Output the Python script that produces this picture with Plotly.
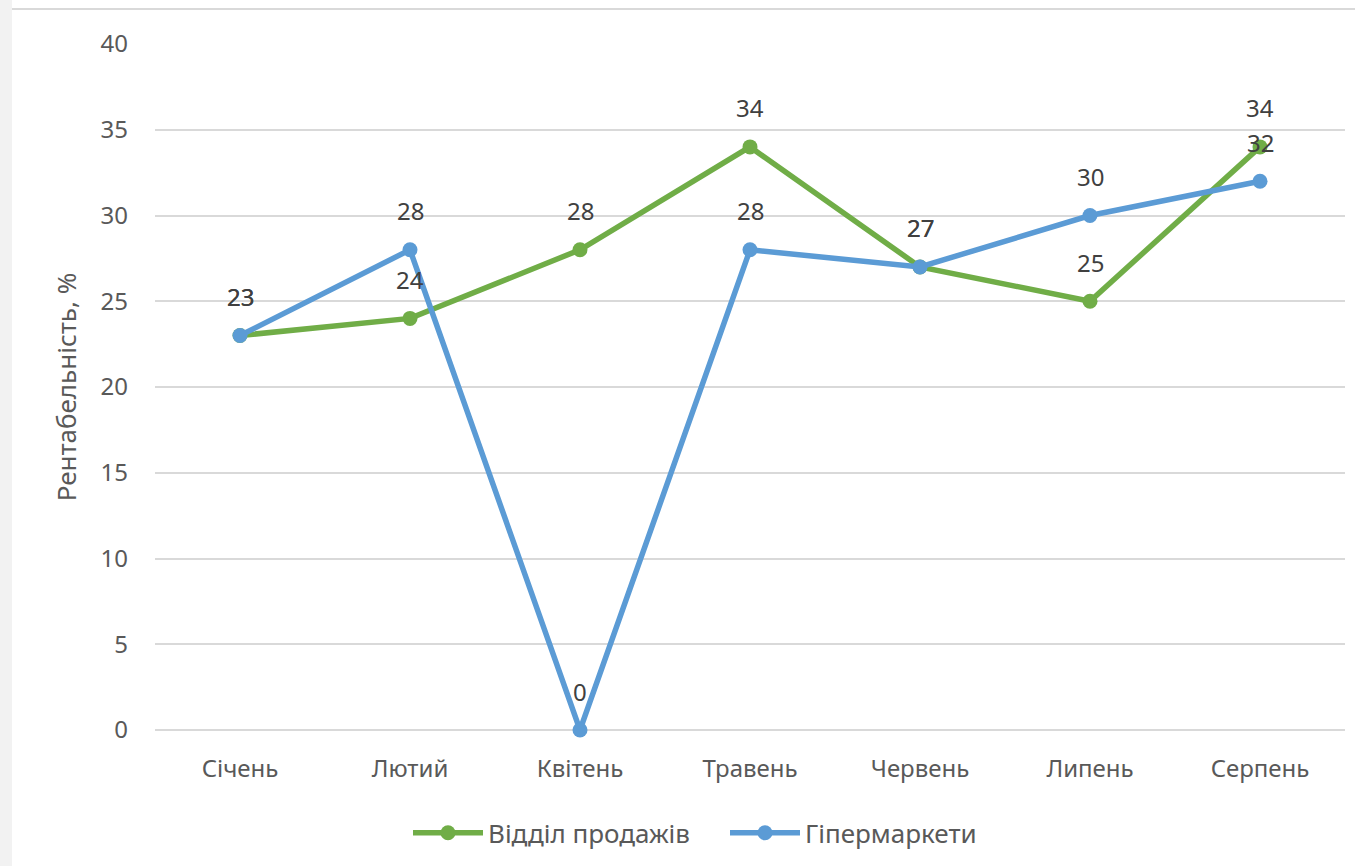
import plotly.graph_objects as go

months = ["Січень", "Лютий", "Квітень", "Травень", "Червень", "Липень", "Серпень"]
sales_dept = [23, 24, 28, 34, 27, 25, 34]
hypermarkets = [23, 28, 0, 28, 27, 30, 32]
series_names = ["Відділ продажів", "Гіпермаркети"]
y_ticks = [0, 5, 10, 15, 20, 25, 30, 35, 40]

GREEN = "#70AD47"
BLUE = "#5B9BD5"
TXT = "#595959"
FONT = "Noto Sans"
FS = 24

fig = go.Figure()
for name, vals, col, lg in [(series_names[0], sales_dept, GREEN, "legend"),
                            (series_names[1], hypermarkets, BLUE, "legend2")]:
    fig.add_trace(go.Scatter(
        x=months, y=vals, name=name, mode="lines+markers",
        line=dict(color=col, width=5.5),
        marker=dict(color=col, size=15),
        cliponaxis=False, legend=lg,
    ))

annotations = []
for vals in [sales_dept, hypermarkets]:
    for m, v in zip(months, vals):
        annotations.append(dict(
            x=m, y=v, text=str(v), showarrow=False, yshift=39,
            font=dict(family=FONT, size=FS, color="#404040"),
        ))

W, H = 1355, 866
L, R, T, B = 155, 10, 44, 136
pw = W - L - R
ph = H - T - B

shapes = [
    dict(type="rect", xref="paper", yref="paper",
         x0=-L / pw, x1=(12 - L) / pw, y0=-B / ph, y1=1 + T / ph,
         fillcolor="#f2f2f2", line=dict(width=0), layer="below"),
    dict(type="line", xref="paper", yref="paper",
         x0=(12 - L) / pw, x1=1 + R / pw, y0=1 + (T - 9) / ph, y1=1 + (T - 9) / ph,
         line=dict(color="#d9d9d9", width=2)),
]

legfont = dict(family=FONT, size=26, color=TXT)
fig.update_layout(
    width=W, height=H,
    margin=dict(l=L, r=R, t=T, b=B),
    paper_bgcolor="white", plot_bgcolor="white",
    font=dict(family=FONT, size=FS, color=TXT),
    showlegend=True,
    legend=dict(orientation="h", x=(408 - L) / pw, xanchor="left", y=-0.15, yanchor="middle",
                font=legfont, itemwidth=70),
    legend2=dict(orientation="h", x=(725 - L) / pw, xanchor="left", y=-0.15, yanchor="middle",
                 font=legfont, itemwidth=70),
    annotations=annotations,
    shapes=shapes,
    xaxis=dict(
        type="category", range=[-0.5, 6.5], showgrid=False, showline=False,
        zeroline=False, ticks="", ticklabelstandoff=22,
        tickfont=dict(family=FONT, size=FS, color=TXT),
    ),
    yaxis=dict(
        range=[0, 40], tickvals=y_ticks, showgrid=True, gridcolor="#d9d9d9",
        gridwidth=1.5, zeroline=True, zerolinecolor="#d9d9d9", zerolinewidth=1.5,
        showline=False, ticks="", ticklabelstandoff=26,
        tickfont=dict(family=FONT, size=FS, color=TXT),
        title=dict(text="Рентабельність, %", standoff=16,
                   font=dict(family=FONT, size=26, color=TXT)),
    ),
)

fig.write_html("out.html")
